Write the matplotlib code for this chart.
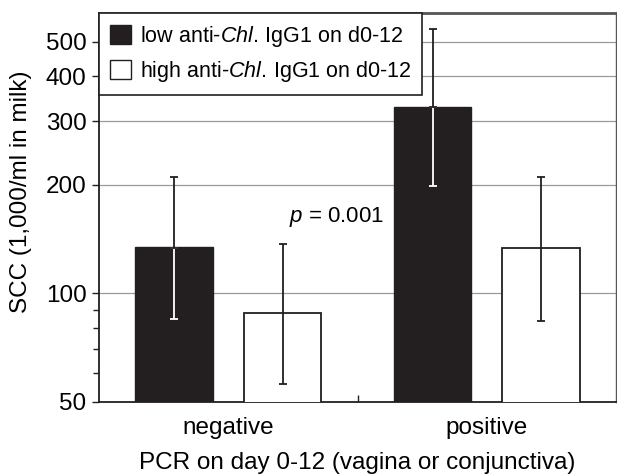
import matplotlib
matplotlib.use("Agg")
import matplotlib.pyplot as plt
from matplotlib.patches import Patch
from matplotlib.ticker import FixedLocator, FixedFormatter, NullFormatter

plt.rcParams['font.family'] = ['Liberation Sans', 'DejaVu Sans']
plt.rcParams['mathtext.fontset'] = 'custom'
plt.rcParams['mathtext.rm'] = 'Liberation Sans'
plt.rcParams['mathtext.it'] = 'Liberation Sans:italic'

# data
categories = ['negative', 'positive']
low_mean = [134, 329]
low_err_lo = [85, 199]
low_err_hi = [210, 540]
high_mean = [87, 133]
high_err_lo = [56, 84]
high_err_hi = [137, 211]
legend_labels = ['low anti-$\\it{Chl.}\\,$IgG1 on d0-12',
                 'high anti-$\\it{Chl.}\\,$IgG1 on d0-12']
y_major = [50, 100, 200, 300, 400, 500]
y_minor = [60, 70, 80, 90]

dark = '#231f20'
fig = plt.figure(figsize=(6.17, 4.74), dpi=100)
ax = fig.add_axes([0.1605, 0.1519, 0.838, 0.8207])

xs = range(len(categories))
off = 0.21
w = 0.30
xl = [x - off for x in xs]
xh = [x + off for x in xs]

ax.bar(xl, low_mean, width=w, bottom=1, color=dark, edgecolor=dark, zorder=3)
ax.bar(xh, high_mean, width=w, bottom=1, color='white', edgecolor=dark,
       linewidth=1.3, zorder=3)

# error bars: white inside the black bars, black above them
for x, m, lo, hi in zip(xl, low_mean, low_err_lo, low_err_hi):
    ax.errorbar([x], [m], yerr=[[m - lo], [0]], fmt='none', ecolor='white',
                elinewidth=1.3, capsize=3, capthick=1.3, zorder=4)
    ax.errorbar([x], [m], yerr=[[0], [hi - m]], fmt='none', ecolor=dark,
                elinewidth=1.3, capsize=3, capthick=1.3, zorder=4)
for x, m, lo, hi in zip(xh, high_mean, high_err_lo, high_err_hi):
    ax.errorbar([x], [m], yerr=[[m - lo], [hi - m]], fmt='none', ecolor=dark,
                elinewidth=1.3, capsize=3, capthick=1.3, zorder=4)

ax.set_yscale('log')
ax.set_ylim(50, 600)
ax.set_xlim(-0.5, 1.5)
ax.yaxis.set_major_locator(FixedLocator(y_major))
ax.yaxis.set_major_formatter(FixedFormatter([str(v) for v in y_major]))
ax.yaxis.set_minor_locator(FixedLocator(y_minor))
ax.yaxis.set_minor_formatter(NullFormatter())
ax.tick_params(axis='y', which='major', direction='out', length=5, width=1,
               labelsize=17.5, color=dark, pad=4)
ax.tick_params(axis='y', which='minor', direction='out', length=4, width=1, color=dark)

ax.set_xticks(list(xs))
ax.set_xticklabels(categories)
ax.set_xticks([0.5], minor=True)
ax.tick_params(axis='x', which='major', length=0, labelsize=17.5, pad=11)
ax.tick_params(axis='x', which='minor', direction='in', length=5, width=1, color=dark)

for v in y_major[1:]:
    ax.axhline(v, color='#9a9a9a', linewidth=0.9, zorder=1)

for s in ['left', 'bottom']:
    ax.spines[s].set_color(dark)
    ax.spines[s].set_linewidth(1.3)
ax.spines['top'].set_color('#555555')
ax.spines['top'].set_linewidth(2.0)
ax.spines['right'].set_color('#555555')
ax.spines['right'].set_linewidth(1.0)

ax.set_ylabel('SCC (1,000/ml in milk)', fontsize=17.5, labelpad=10)
ax.yaxis.label.set_y(0.54)
ax.set_xlabel('PCR on day 0-12 (vagina or conjunctiva)', fontsize=17.5, labelpad=9)

ax.text(0.418, 163, '$\\it{p}$ = 0.001', fontsize=16, ha='center', va='center', zorder=5)

handles = [Patch(facecolor=dark, edgecolor=dark),
           Patch(facecolor='white', edgecolor=dark, linewidth=1)]
leg = ax.legend(handles, legend_labels, loc='upper left', borderaxespad=0,
                fontsize=15.5, fancybox=False, framealpha=1, edgecolor=dark,
                handlelength=0.98, handleheight=1.0, handletextpad=0.42,
                labelspacing=0.48, borderpad=0.5)
leg.get_frame().set_linewidth(1.2)
leg.set_zorder(6)

fig.savefig('out.png', dpi=100)
